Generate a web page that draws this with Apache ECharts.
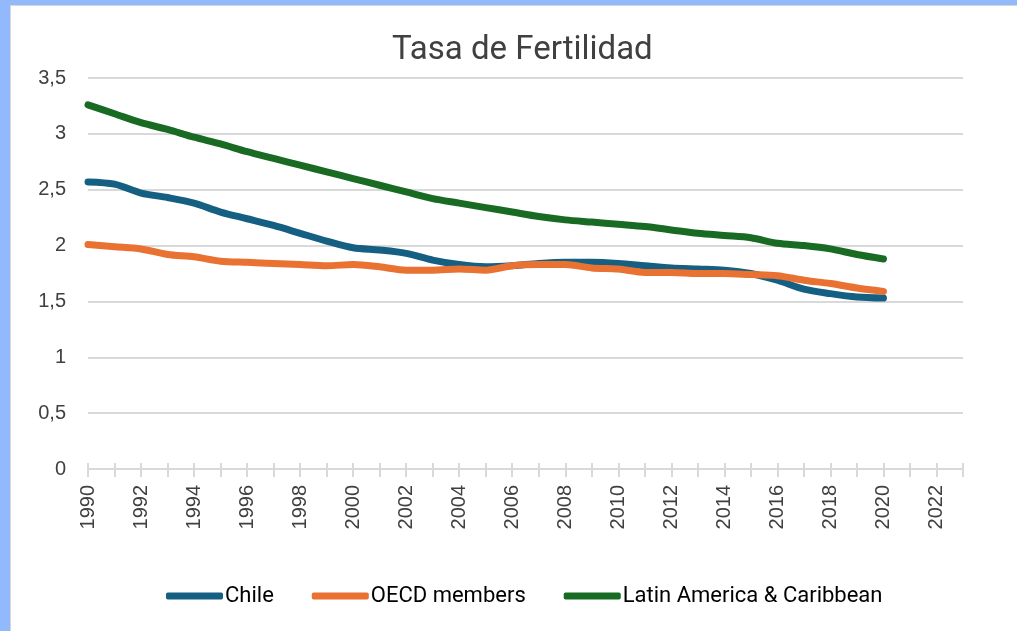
<!DOCTYPE html>
<html>
<head>
<meta charset="utf-8">
<script src="https://cdn.jsdelivr.net/npm/echarts@6/dist/echarts.min.js"></script>
<style>
  html, body { margin: 0; padding: 0; }
  body { width: 1017px; height: 631px; background: #91b9fb; position: relative; overflow: hidden; }
  #frame { position: absolute; left: 10px; top: 5px; width: 1007px; height: 626px; background: #d6d6d6; }
  #main { position: absolute; left: 11px; top: 6px; width: 1006px; height: 625px; background: #fff; }
</style>
</head>
<body>
<div id="frame"></div>
<div id="main"></div>
<script>
  // años 1990 - 2023 (2023 sin dato, solo marca del eje)
  const years = [];
  for (let y = 1990; y <= 2023; y++) years.push(String(y));

  const chile = [2.57, 2.55, 2.47, 2.43, 2.38, 2.30, 2.24, 2.18, 2.11, 2.04,
                 1.98, 1.96, 1.93, 1.87, 1.83, 1.81, 1.82, 1.84, 1.85, 1.85,
                 1.84, 1.82, 1.80, 1.79, 1.78, 1.75, 1.69, 1.61, 1.57, 1.54, 1.53];
  const oecd = [2.01, 1.99, 1.97, 1.92, 1.90, 1.86, 1.85, 1.84, 1.83, 1.82,
                1.83, 1.81, 1.78, 1.78, 1.79, 1.78, 1.82, 1.83, 1.83, 1.80,
                1.79, 1.76, 1.76, 1.75, 1.75, 1.74, 1.73, 1.69, 1.66, 1.62, 1.59];
  const latam = [3.26, 3.18, 3.10, 3.04, 2.97, 2.91, 2.84, 2.78, 2.72, 2.66,
                 2.60, 2.54, 2.48, 2.42, 2.38, 2.34, 2.30, 2.26, 2.23, 2.21,
                 2.19, 2.17, 2.14, 2.11, 2.09, 2.07, 2.02, 2.00, 1.97, 1.92, 1.88];

  const seriesNames = ['Chile', 'OECD members', 'Latin America & Caribbean'];
  const colors = ['#156082', '#e97132', '#196b24'];

  let myChart = echarts.init(document.getElementById('main'));

  const mkLine = (name, data, color) => ({
    name: name,
    type: 'line',
    data: data,
    xAxisIndex: 0,
    smooth: 0.3,
    showSymbol: false,
    color: color,
    lineStyle: { width: 7, color: color, cap: 'round', join: 'round' }
  });

  const tickStyle = { color: '#d9d9d9', width: 2 };

  myChart.setOption({
    animation: false,
    title: {
      text: 'Tasa de Fertilidad',
      left: 376,
      top: 23,
      textStyle: { fontFamily: 'Roboto', fontWeight: 'normal', fontSize: 33, color: '#404040' }
    },
    legend: {
      top: 574,
      left: 150,
      icon: 'roundRect',
      itemWidth: 57,
      itemHeight: 7,
      itemGap: 38,
      textStyle: { fontFamily: 'Roboto', fontSize: 22, color: '#000', padding: [0, 0, 0, -3] },
      data: seriesNames
    },
    grid: { left: 77, right: 54, top: 72, bottom: 162 },
    xAxis: [{
      type: 'category',
      data: years,
      boundaryGap: false,
      axisLine: { lineStyle: tickStyle },
      axisTick: { show: true, interval: 0, length: 8, lineStyle: tickStyle },
      axisLabel: {
        interval: 1,
        rotate: 90,
        margin: 16,
        fontFamily: 'Liberation Sans',
        fontSize: 20,
        color: '#404040'
      },
      splitLine: { show: false }
    }, {
      // marcas hacia adentro (cruzan el eje)
      type: 'category',
      data: years,
      position: 'bottom',
      boundaryGap: false,
      axisLine: { show: false },
      axisTick: { show: true, inside: true, interval: 0, length: 6, lineStyle: tickStyle },
      axisLabel: { show: false },
      splitLine: { show: false }
    }],
    yAxis: {
      type: 'value',
      min: 0,
      max: 3.5,
      interval: 0.5,
      axisLine: { show: false },
      axisTick: { show: false },
      axisLabel: {
        margin: 22,
        fontFamily: 'Liberation Sans',
        fontSize: 20,
        color: '#404040',
        formatter: v => String(v).replace('.', ',')
      },
      splitLine: { lineStyle: { color: '#d9d9d9', width: 2 } }
    },
    series: [
      mkLine(seriesNames[0], chile, colors[0]),
      mkLine(seriesNames[1], oecd, colors[1]),
      mkLine(seriesNames[2], latam, colors[2])
    ]
  });
</script>
</body>
</html>
